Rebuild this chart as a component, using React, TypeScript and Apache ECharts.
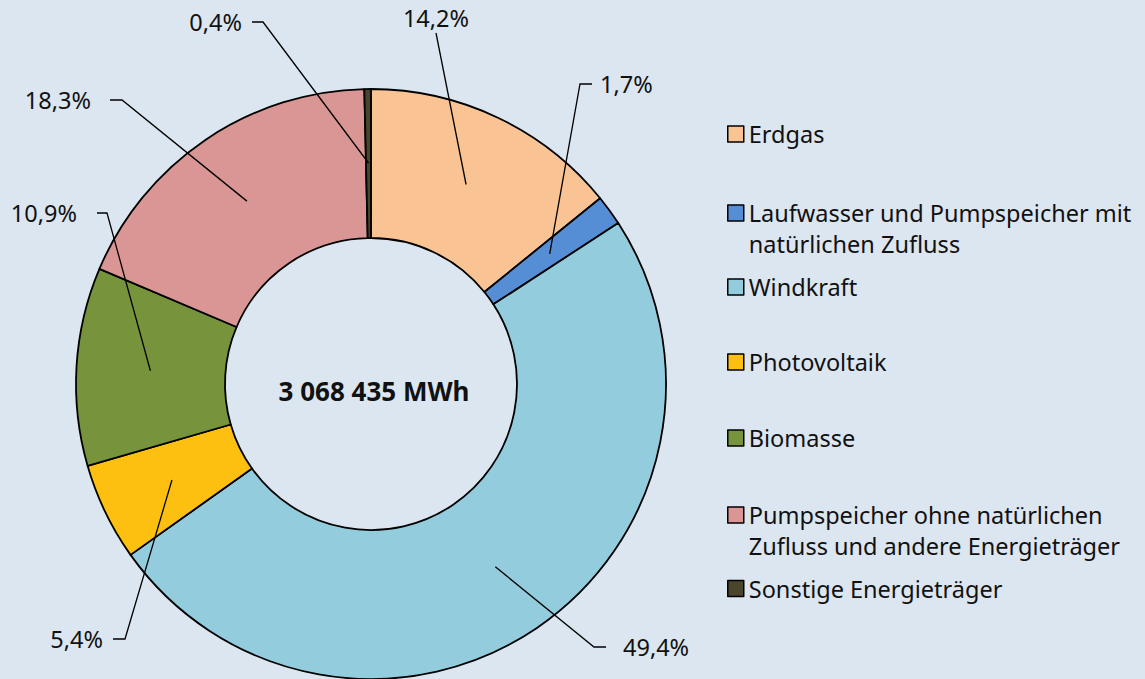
import React, { useEffect, useRef } from "react";
import * as echarts from "echarts";

const CATEGORIES = [
  "Erdgas",
  "Laufwasser und Pumpspeicher mit natürlichen Zufluss",
  "Windkraft",
  "Photovoltaik",
  "Biomasse",
  "Pumpspeicher ohne natürlichen Zufluss und andere Energieträger",
  "Sonstige Energieträger",
];
// shares in percent (estimated so that they round to the printed labels and sum to ~100)
const SHARES = [14.16, 1.66, 49.36, 5.36, 10.86, 18.26, 0.36];
const COLORS = ["#f9c394", "#558ed5", "#93cddd", "#fec010", "#77933c", "#d99694", "#4a452a"];
const TOTAL_LABEL = "3 068 435 MWh";

const BG = "#dce6f0";
const FONT = "'Noto Sans', sans-serif";

// label layout (position of each percentage label box)
const LABEL_LAYOUT = [
  { x: 436, y: 18, align: "center", padding: [0, 0, 0, 0], len2: 0 },
  { x: 592, y: 84, align: "left", padding: [0, 70, 0, 8], len2: 12 },
  { x: 606, y: 647, align: "left", padding: [0, 20, 0, 17], len2: 12 },
  { x: 113, y: 639, align: "right", padding: [0, 10, 0, 60], len2: 12 },
  { x: 97, y: 213, align: "right", padding: [0, 20, 0, 60], len2: 10 },
  { x: 110, y: 100, align: "right", padding: [0, 19, 0, 60], len2: 12 },
  { x: 252, y: 22, align: "right", padding: [0, 10, 0, 60], len2: 11 },
];
const LEGEND_ICON_CENTERS = [134, 213, 287, 362, 438, 515, 588.5];
const LEGEND_LINE_H = 31;

export default function App() {
  const ref = useRef<HTMLDivElement>(null);
  useEffect(() => {
    document.body.style.margin = "0";
    if (!ref.current) return;
    const chart = echarts.init(ref.current, null, { renderer: "svg" });

    const donutData = CATEGORIES.map((name, i) => ({
      name,
      value: SHARES[i],
      itemStyle: { color: COLORS[i] },
    }));
    const labelData = CATEGORIES.map((name, i) => ({
      name,
      value: SHARES[i],
      label: { padding: LABEL_LAYOUT[i].padding },
      labelLine: { length2: LABEL_LAYOUT[i].len2 },
    }));

    const legends = CATEGORIES.map((name, i) => {
      const twoLine = name.length > 30;
      return {
        data: [name],
        orient: "vertical",
        left: 727,
        top: LEGEND_ICON_CENTERS[i] - (twoLine ? LEGEND_LINE_H * 1.5 : LEGEND_LINE_H / 2),
        padding: 0,
        icon: "rect",
        itemWidth: 16,
        itemHeight: 16,
        selectedMode: false,
        itemStyle: { borderColor: "#000", borderWidth: 1.5 },
        formatter: (n: string) => (twoLine ? "\n" + n : n),
        textStyle: {
          fontFamily: FONT,
          fontSize: 23.5,
          color: "#111",
          lineHeight: LEGEND_LINE_H,
          width: 400,
          overflow: "break",
        },
      };
    });

    chart.setOption({
      animation: false,
      backgroundColor: BG,
      title: {
        text: TOTAL_LABEL,
        left: 369,
        top: 386,
        textAlign: "center",
        textVerticalAlign: "middle",
        textStyle: { fontFamily: FONT, fontSize: 26, fontWeight: "bold", color: "#111" },
      },
      legend: legends,
      series: [
        {
          type: "pie",
          center: [371, 384],
          radius: [146, 295],
          startAngle: 90,
          clockwise: true,
          silent: true,
          label: { show: false },
          labelLine: { show: false },
          itemStyle: { borderColor: "#000", borderWidth: 1.8 },
          emphasis: { disabled: true },
          data: donutData,
        },
        {
          type: "pie",
          center: [371, 384],
          radius: [0, 221],
          startAngle: 90,
          clockwise: true,
          silent: true,
          z: 5,
          avoidLabelOverlap: false,
          itemStyle: { color: "rgba(0,0,0,0)", borderWidth: 0 },
          emphasis: { disabled: true },
          label: {
            show: true,
            position: "outside",
            fontFamily: FONT,
            fontSize: 23.5,
            color: "#111",
            lineHeight: 30,
            formatter: (p: any) => Number(p.value).toFixed(1).replace(".", ",") + "%",
          },
          labelLine: {
            show: true,
            length: 10,
            length2: 12,
            lineStyle: { color: "#000", width: 1.3 },
          },
          labelLayout: (p: any) => {
            const l = LABEL_LAYOUT[p.dataIndex];
            return { x: l.x, y: l.y, align: l.align, verticalAlign: "middle" };
          },
          data: labelData,
        },
      ],
    });
    return () => chart.dispose();
  }, []);
  return <div ref={ref} style={{ width: 1145, height: 679, background: BG }} />;
}
